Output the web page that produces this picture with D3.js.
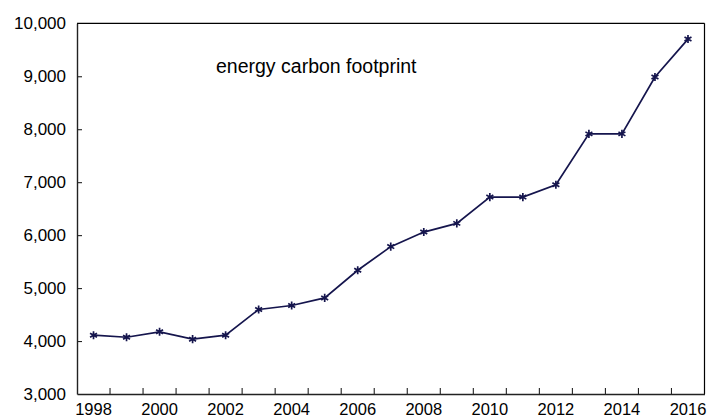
<!DOCTYPE html>
<html>
<head>
<meta charset="utf-8">
<script src="https://cdn.jsdelivr.net/npm/d3@7"></script>
<style>
  html, body { margin: 0; padding: 0; background: #fff; }
  svg { display: block; }
  text { font-family: "Liberation Sans", Arial, sans-serif; fill: #000; }
</style>
</head>
<body>
<svg id="chart" width="709" height="419"></svg>
<script>
const years = [1998,1999,2000,2001,2002,2003,2004,2005,2006,2007,2008,2009,2010,2011,2012,2013,2014,2015,2016];
const values = [4110,4072,4174,4036,4110,4596,4671,4815,5336,5783,6058,6222,6718,6718,6951,7912,7912,8986,9702];
const yTicks = [3000,4000,5000,6000,7000,8000,9000,10000];
const xLabelYears = [1998,2000,2002,2004,2006,2008,2010,2012,2014,2016];
const title = "energy carbon footprint";

const W = 709, H = 419;
const m = { left: 77, right: 4.5, top: 23.3, bottom: 25 };
const svg = d3.select("#chart");

const x = d3.scaleBand().domain(years).range([m.left, W - m.right]).padding(0);
const y = d3.scaleLinear().domain([3000, 10000]).range([H - m.bottom, m.top]);

const fmt = d3.format(",");
const lineColor = "#15154d";

// frame top and right
svg.append("line").attr("x1", m.left).attr("x2", W - m.right).attr("y1", m.top).attr("y2", m.top)
  .attr("stroke", "#000").attr("stroke-width", 1.2);
svg.append("line").attr("x1", W - m.right).attr("x2", W - m.right).attr("y1", m.top).attr("y2", H - m.bottom)
  .attr("stroke", "#000").attr("stroke-width", 1.2);

// y axis
const yAxis = svg.append("g").attr("transform", `translate(${m.left},0)`)
  .call(d3.axisLeft(y).tickValues(yTicks).tickFormat(fmt).tickSizeInner(-5).tickSizeOuter(0).tickPadding(11));
yAxis.select(".domain").attr("stroke", "#222").attr("stroke-width", 1.4);
yAxis.selectAll(".tick line").attr("stroke", "#222").attr("stroke-width", 1.1);
yAxis.selectAll("text").style("font-size", "17px").style("font-family", "Liberation Sans, Arial, sans-serif").attr("fill", "#000");
yAxis.selectAll(".tick").filter(d => d === 3000 || d === 10000).select("line").remove();

// x axis (labels)
const xAxis = svg.append("g").attr("transform", `translate(0,${H - m.bottom})`)
  .call(d3.axisBottom(x).tickValues(xLabelYears).tickSize(0).tickPadding(9));
xAxis.select(".domain").attr("stroke", "#222").attr("stroke-width", 1.4);
xAxis.selectAll("text").style("font-size", "16.5px").style("font-family", "Liberation Sans, Arial, sans-serif").attr("fill", "#000");

// x ticks at band boundaries (inward)
svg.append("g").selectAll("line").data(years.slice(0, -1)).join("line")
  .attr("x1", d => x(d) + x.bandwidth()).attr("x2", d => x(d) + x.bandwidth())
  .attr("y1", H - m.bottom).attr("y2", H - m.bottom - 6)
  .attr("stroke", "#222").attr("stroke-width", 1.1);

// line
const cx = d => x(d) + x.bandwidth() / 2;
const data = years.map((yr, i) => ({ yr, v: values[i] }));
svg.append("path").datum(data)
  .attr("fill", "none").attr("stroke", lineColor).attr("stroke-width", 1.7)
  .attr("d", d3.line().x(d => cx(d.yr)).y(d => y(d.v)));

// markers
const sym = d3.symbol().type(d3.symbolAsterisk).size(45);
svg.append("g").selectAll("path").data(data).join("path")
  .attr("transform", d => `translate(${cx(d.yr)},${y(d.v)})`)
  .attr("d", sym).attr("fill", "none").attr("stroke", lineColor).attr("stroke-width", 1.7);

// title
svg.append("text").attr("x", 216).attr("y", 72.5).style("font-size", "19.5px").text(title);
</script>
</body>
</html>
